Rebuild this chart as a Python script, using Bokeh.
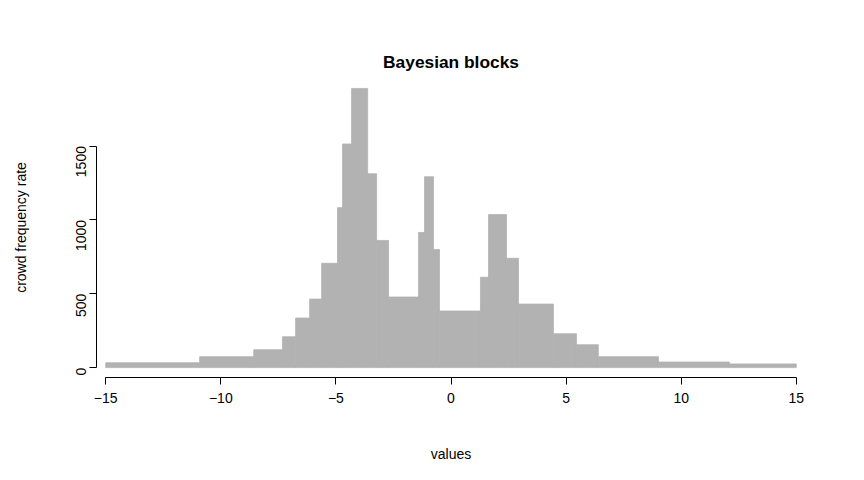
import math
from bokeh.plotting import figure
from bokeh.models import FixedTicker, Range1d
from bokeh.embed import file_html
from bokeh.resources import INLINE

edges = [-15, -10.92, -8.57, -7.32, -6.75, -6.14, -5.62, -4.93, -4.71, -4.32, -3.62, -3.23,
         -2.71, -1.41, -1.15, -0.76, -0.50, 1.28, 1.63, 2.41, 2.93, 4.45, 5.45, 6.40, 9.01, 12.09, 15]
heights = [33, 74, 121, 209, 336, 464, 706, 1083, 1514, 1890, 1312, 861,
           478, 915, 1292, 800, 383, 612, 1036, 740, 430, 229, 155, 74, 38, 25]
x_ticks = [-15, -10, -5, 0, 5, 10, 15]
y_ticks = [0, 500, 1000, 1500]

p = figure(width=848, height=464, output_backend="svg", toolbar_location=None,
           x_range=Range1d(-15.4, 15.4), y_range=Range1d(-67, 1964),
           min_border_left=96, min_border_right=43, min_border_top=77, min_border_bottom=85)
p.quad(left=edges[:-1], right=edges[1:], bottom=0, top=heights,
       fill_color="#b2b2b2", line_color="#b2b2b2", line_width=0.8)

p.title.text = "Bayesian blocks"
p.title.align = "center"
p.title.text_font = "Liberation Sans"
p.title.text_font_size = "13pt"
p.title.text_font_style = "bold"
p.title.text_color = "black"
p.title.standoff = 11

p.outline_line_color = None
p.grid.visible = False
p.background_fill_color = "white"

for ax, ticks in ((p.xaxis[0], x_ticks), (p.yaxis[0], y_ticks)):
    ax.ticker = FixedTicker(ticks=ticks)
    ax.bounds = (ticks[0], ticks[-1])
    ax.minor_tick_line_color = None
    ax.major_tick_out = 7
    ax.major_tick_in = 0
    ax.axis_line_color = "black"
    ax.major_tick_line_color = "black"
    ax.major_label_text_font = "Liberation Sans"
    ax.major_label_text_font_size = "10.5pt"
    ax.major_label_text_color = "black"
    ax.axis_label_text_font = "Liberation Sans"
    ax.axis_label_text_font_size = "10.5pt"
    ax.axis_label_text_font_style = "normal"
    ax.axis_label_text_color = "black"
    ax.major_label_standoff = 8

p.xaxis.axis_label = "values"
p.xaxis.axis_label_standoff = 40
p.yaxis.axis_label = "crowd frequency rate"
p.yaxis.axis_label_standoff = 40
p.yaxis.major_label_orientation = math.pi / 2

open("out.html", "w").write(file_html(p, INLINE))
